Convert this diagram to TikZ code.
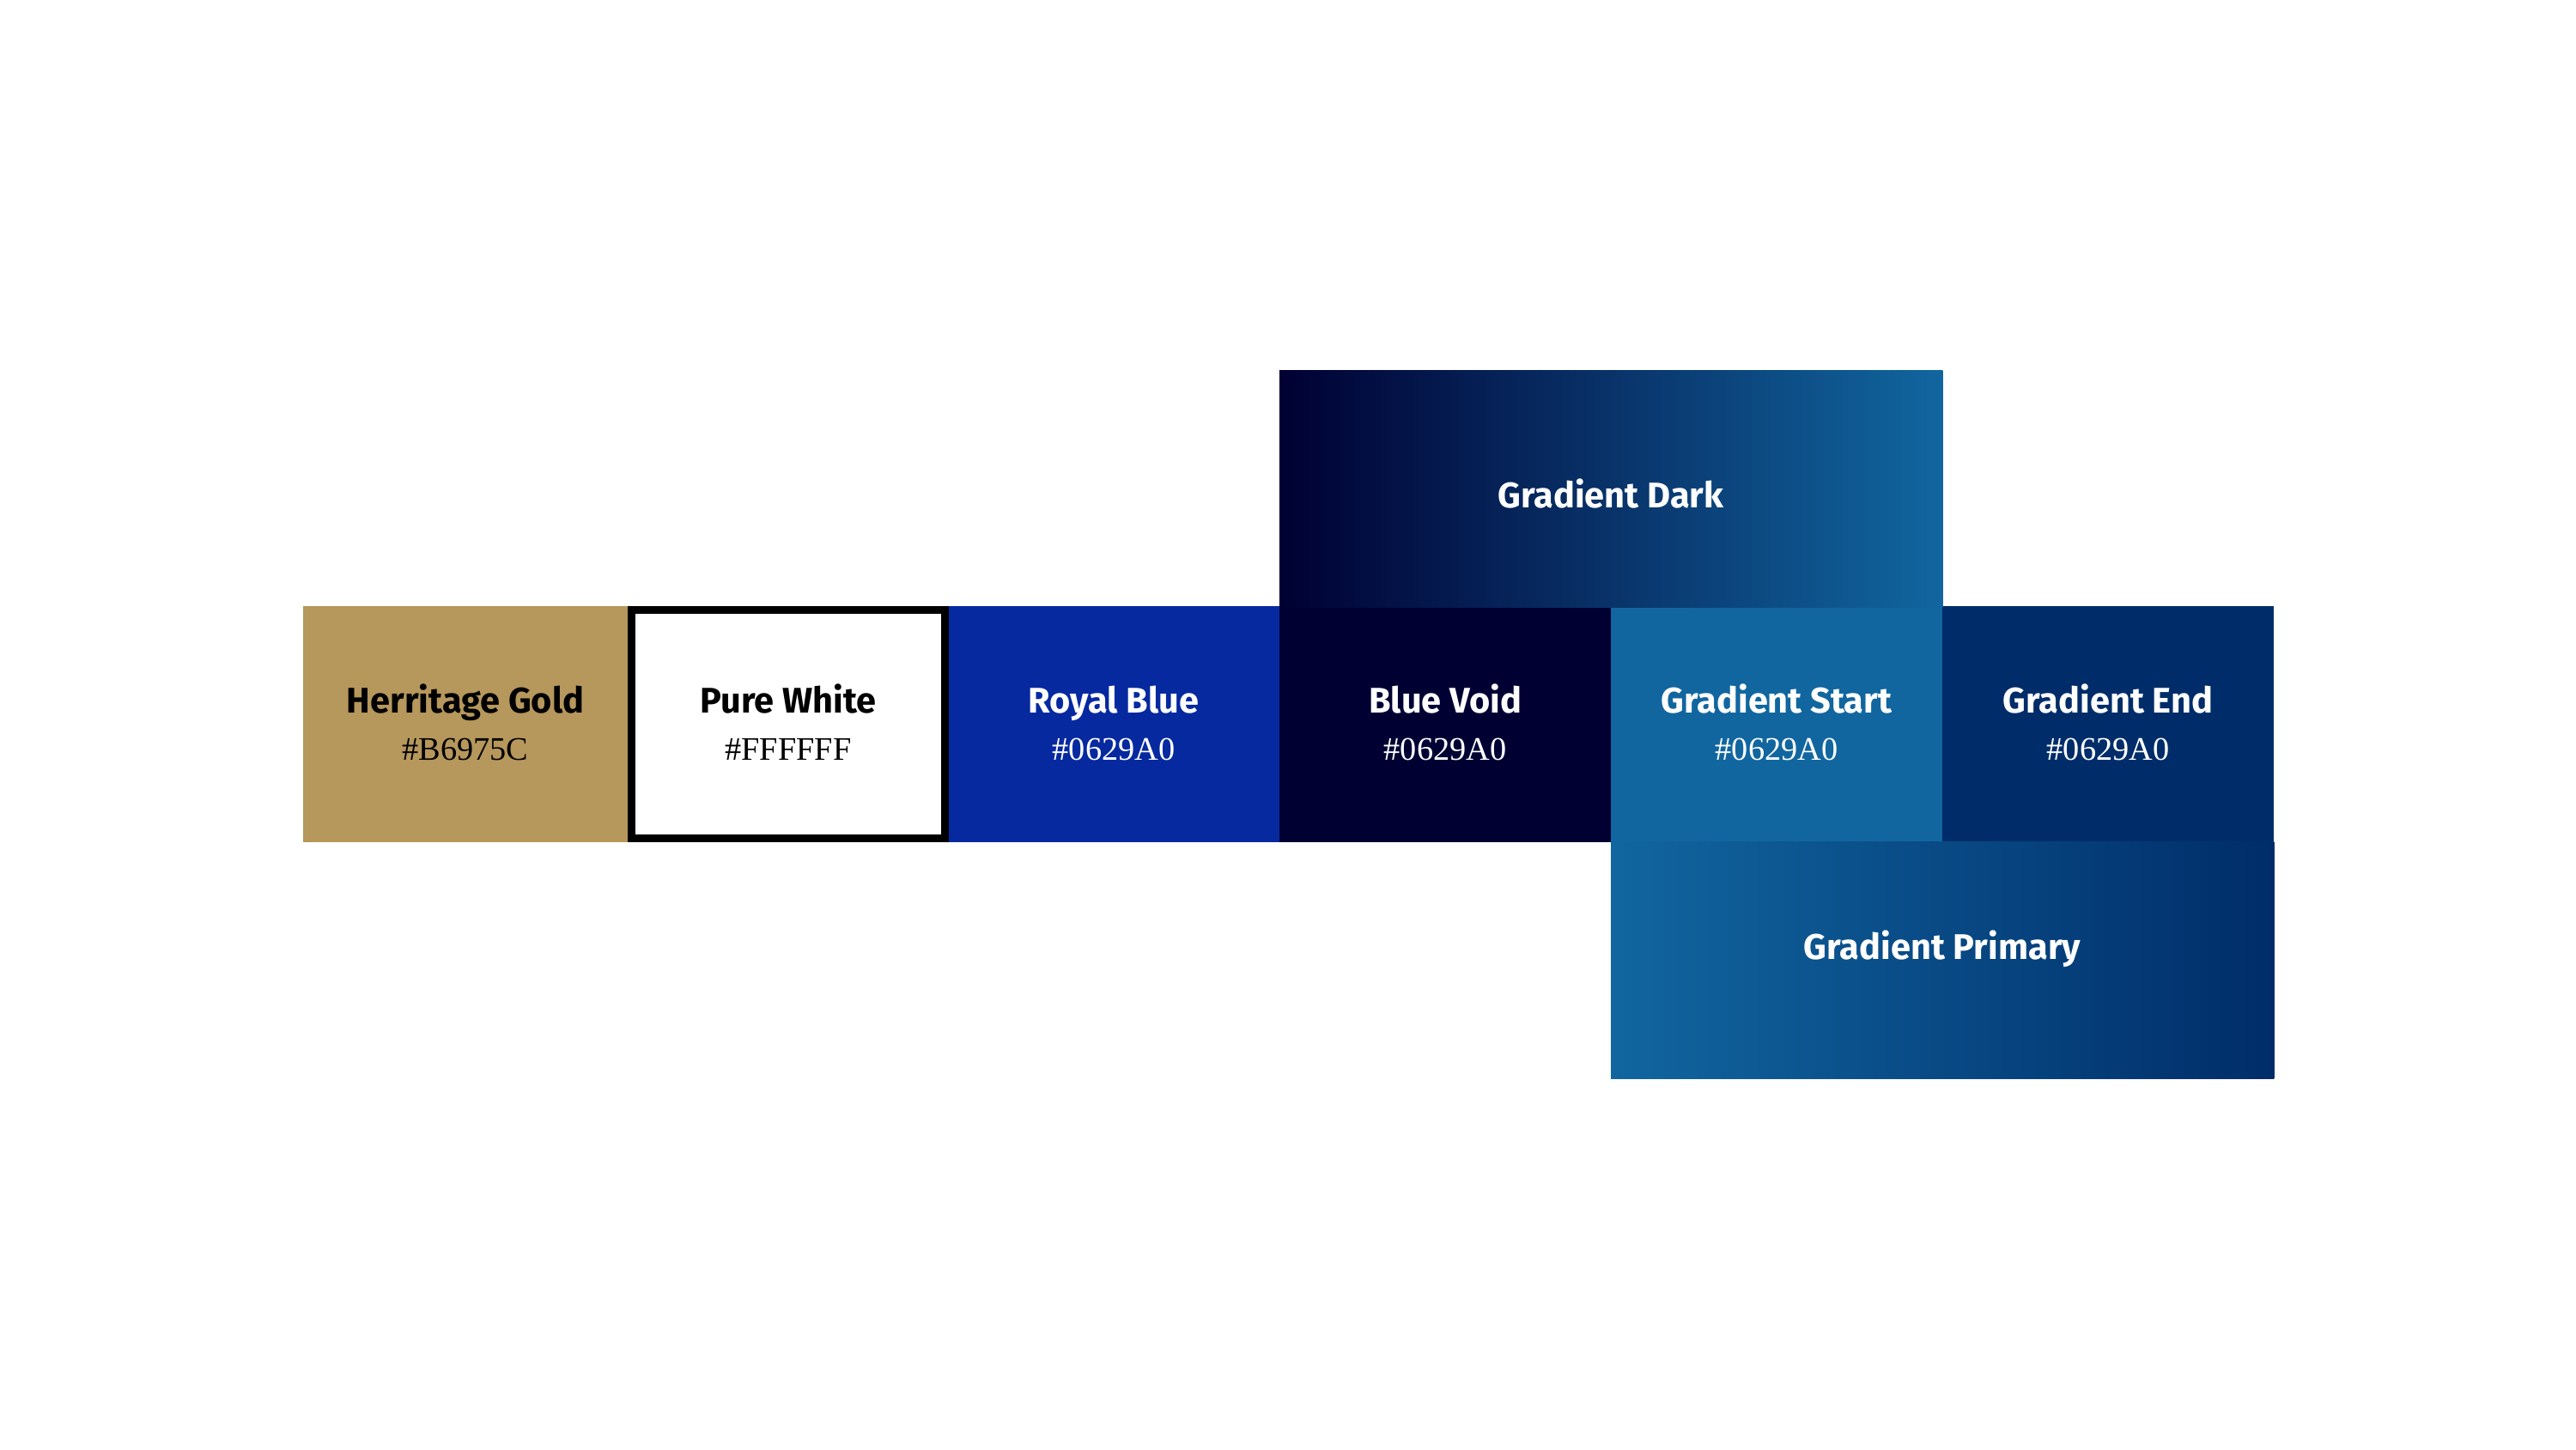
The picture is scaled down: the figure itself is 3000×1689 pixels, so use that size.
\documentclass[tikz,border=0pt]{standalone}
\usepackage{fontspec}
\newfontfamily\titlefont{Fira Sans}
\newfontfamily\hexfont{Liberation Serif}
\definecolor{goldc}{HTML}{B6975C}
\definecolor{royalc}{HTML}{0629A0}
\definecolor{voidc}{HTML}{000033}
\definecolor{startc}{HTML}{1166A0}
\definecolor{endc}{HTML}{002D69}
\begin{document}
\begin{tikzpicture}[x=0.01cm,y=-0.01cm]
\tikzset{
  swatch/.style={draw=none, inner sep=0pt, outer sep=0pt, anchor=north west,
    minimum width=3.86cm, minimum height=2.75cm},
  ttl/.style={anchor=base, inner sep=0pt, font=\titlefont\bfseries\fontsize{11.8}{13}\selectfont},
  hex/.style={anchor=base, inner sep=0pt, font=\hexfont\fontsize{10.9}{12}\selectfont},
}
\useasboundingbox[fill=white] (0,0) rectangle (3000,1689);
% swatches
\node[swatch, fill=goldc, minimum width=3.78cm] (gold) at (353,706) {};
\node[draw=black, fill=white, line width=2.56pt, inner sep=0pt, outer sep=0pt,
      minimum width=3.65cm, minimum height=2.66cm] (white) at (918,843.5) {};
\node[swatch, fill=royalc, minimum width=3.85cm] (royal) at (1105,706) {};
\node[swatch, fill=voidc] (void) at (1490,706) {};
\node[swatch, fill=startc] (start) at (1876,706) {};
\node[swatch, fill=endc] (end) at (2262,706) {};
\node[swatch, left color=voidc, right color=startc, minimum width=7.72cm] (dark) at (1490,432) {};
\node[swatch, left color=startc, right color=endc, minimum width=7.72cm] (primary) at (1876,981) {};
% labels
\node[ttl, text=black] (goldT) at (542,831) {Herritage Gold};
\node[hex, text=black] (goldH) at (542,886) {\#B6975C};
\node[ttl, text=black] (whiteT) at (918,831) {Pure White};
\node[hex, text=black] (whiteH) at (918,886) {\#FFFFFF};
\node[ttl, text=white] (royalT) at (1297,831) {Royal Blue};
\node[hex, text=white] (royalH) at (1297,886) {\#0629A0};
\node[ttl, text=white] (voidT) at (1683,831) {Blue Void};
\node[hex, text=white] (voidH) at (1683,886) {\#0629A0};
\node[ttl, text=white] (startT) at (2069,831) {Gradient Start};
\node[hex, text=white] (startH) at (2069,886) {\#0629A0};
\node[ttl, text=white] (endT) at (2455,831) {Gradient End};
\node[hex, text=white] (endH) at (2455,886) {\#0629A0};
\node[ttl, text=white] (darkT) at (1876,592) {Gradient Dark};
\node[ttl, text=white] (primaryT) at (2262,1117) {Gradient Primary};
\end{tikzpicture}
\end{document}
